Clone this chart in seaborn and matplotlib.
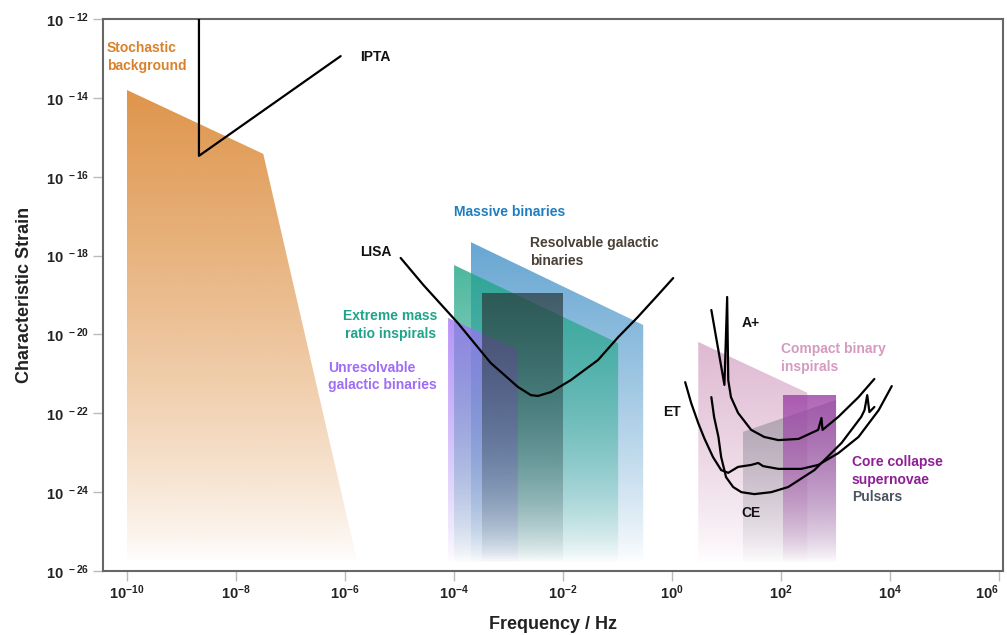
import numpy as np
import matplotlib
matplotlib.use("Agg")
import matplotlib.pyplot as plt
from matplotlib.patches import Polygon
from matplotlib.colors import to_rgb
import seaborn as sns

# all values below are log10(frequency / Hz) and log10(characteristic strain)
floor = -25.8

# source regions (outline vertices)
stoch_f = [-10.0, -7.5, -5.77, -10.0]
stoch_h = [-13.8, -15.42, floor, floor]

massive_f = [-3.69, -0.53, -0.53, -3.69]
massive_h = [-17.66, -19.76, floor, floor]

emri_f = [-4.0, -0.99, -0.99, -4.0]
emri_h = [-18.24, -20.22, floor, floor]

unres_f = [-4.11, -2.83, -2.83, -4.11]
unres_h = [-19.58, -20.39, floor, floor]

resolv_f = [-3.49, -2.0, -2.0, -3.49]
resolv_h = [-18.95, -18.95, floor, floor]

cbc_f = [0.48, 2.48, 2.48, 0.48]
cbc_h = [-20.19, -21.48, floor, floor]

pulsar_f = [1.30, 3.01, 3.01, 1.30]
pulsar_h = [-22.47, -21.66, floor, floor]

ccsn_f = [2.04, 3.01, 3.01, 2.04]
ccsn_h = [-21.54, -21.54, floor, floor]

# detector sensitivity curves
ipta_f = [-8.68, -8.68, -6.08]
ipta_h = [-11.0, -15.47, -12.94]

lisa_f = [-4.98, -4.56, -3.93, -3.33, -2.83, -2.59, -2.46, -2.22, -1.86, -1.36, -0.99, -0.63, -0.26, 0.02]
lisa_h = [-18.06, -18.75, -19.71, -20.72, -21.33, -21.54, -21.56, -21.46, -21.16, -20.65, -20.07, -19.56, -19.00, -18.57]

aplus_f = [0.72, 0.96, 1.01, 1.03, 1.08, 1.21, 1.45, 1.69, 1.95, 2.32, 2.68, 2.74, 2.76, 3.05, 3.42, 3.71]
aplus_h = [-19.38, -21.28, -19.05, -21.16, -21.59, -21.99, -22.42, -22.60, -22.68, -22.65, -22.42, -22.12, -22.42, -22.09, -21.59, -21.13]

et_f = [0.24, 0.35, 0.48, 0.59, 0.75, 0.90, 1.03, 1.21, 1.45, 1.58, 1.67, 1.95, 2.37, 2.68, 3.05, 3.42, 3.79, 4.03]
et_h = [-21.21, -21.74, -22.25, -22.63, -23.11, -23.44, -23.51, -23.36, -23.31, -23.26, -23.34, -23.41, -23.41, -23.31, -23.01, -22.60, -21.92, -21.31]

ce_f = [0.72, 0.77, 0.85, 0.90, 0.99, 1.12, 1.27, 1.51, 1.82, 2.13, 2.61, 3.11, 3.47, 3.53, 3.58, 3.62, 3.71]
ce_h = [-21.59, -22.09, -22.60, -23.11, -23.62, -23.87, -24.00, -24.05, -24.00, -23.87, -23.44, -22.75, -22.09, -21.92, -21.54, -21.97, -21.84]

x_ticks = [-10, -8, -6, -4, -2, 0, 2, 4, 6]
y_ticks = [-26, -24, -22, -20, -18, -16, -14, -12]

sns.set_theme(style="white")
plt.rcParams['font.family'] = ['Liberation Sans', 'DejaVu Sans']
plt.rcParams['font.weight'] = 'bold'
plt.rcParams['mathtext.fontset'] = 'custom'
plt.rcParams['mathtext.rm'] = 'Liberation Sans:bold'
plt.rcParams['mathtext.bf'] = 'Liberation Sans:bold'

fig, ax = plt.subplots(figsize=(10.07, 6.35), dpi=100)
fig.subplots_adjust(left=0.1023, right=0.996, bottom=0.1008, top=0.970)


def gradient_region(fx, hx, color, alpha_top, z):
    poly = Polygon(np.column_stack([fx, hx]), closed=True, facecolor='none', edgecolor='none')
    ax.add_patch(poly)
    n = 256
    t = np.linspace(1, 0, n) ** 0.8
    rgba = np.zeros((n, 1, 4))
    rgba[..., :3] = to_rgb(color)
    rgba[:, 0, 3] = alpha_top * t
    im = ax.imshow(rgba, extent=[min(fx), max(fx), min(hx), max(hx)], origin='upper',
                   aspect='auto', interpolation='bilinear', zorder=z)
    im.set_clip_path(poly)


gradient_region(stoch_f, stoch_h, '#D9822B', 0.85, 1)
gradient_region(massive_f, massive_h, '#3C8DC5', 0.78, 2)
gradient_region(emri_f, emri_h, '#20A585', 0.8, 3)
gradient_region(unres_f, unres_h, '#9D70F5', 0.75, 4)
gradient_region(resolv_f, resolv_h, '#2A3A3C', 0.72, 5)
gradient_region(cbc_f, cbc_h, '#C98AB3', 0.6, 2)
gradient_region(pulsar_f, pulsar_h, '#7F7F8C', 0.55, 3)
gradient_region(ccsn_f, ccsn_h, '#9B40A5', 0.8, 4)

for fx, hx in [(ipta_f, ipta_h), (lisa_f, lisa_h), (aplus_f, aplus_h), (et_f, et_h), (ce_f, ce_h)]:
    sns.lineplot(x=fx, y=hx, sort=False, estimator=None, color='black', lw=1.6, ax=ax, zorder=8)

labels = [
    (-10.37, -12.96, "Stochastic\nbackground", '#D9822B', 'left'),
    (-5.72, -12.96, "IPTA", '#111111', 'left'),
    (-4.0, -16.89, "Massive binaries", '#1F7EC0', 'left'),
    (-2.61, -17.91, "Resolvable galactic\nbinaries", '#4A4036', 'left'),
    (-5.72, -17.91, "LISA", '#111111', 'left'),
    (-5.17, -19.76, "Extreme mass\nratio inspirals", '#20A38A', 'center'),
    (-6.31, -21.07, "Unresolvable\ngalactic binaries", '#9F6CF5', 'left'),
    (1.28, -19.71, "A+", '#111111', 'left'),
    (2.0, -20.60, "Compact binary\ninspirals", '#D59AC0', 'left'),
    (-0.165, -21.97, "ET", '#111111', 'left'),
    (1.28, -24.53, "CE", '#111111', 'left'),
    (3.30, -23.46, "Core collapse\nsupernovae", '#8E1F96', 'left'),
    (3.30, -24.12, "Pulsars", '#4A5560', 'left'),
]
for x, y, s, c, ha in labels:
    ax.text(x, y, s, color=c, ha=ha, va='center', fontsize=10, fontweight='bold',
            linespacing=1.3, multialignment=ha, zorder=10)

ax.set_xlim(-10.44, 6.07)
ax.set_ylim(-26, -12)
ax.set_xticks(x_ticks)
ax.set_xticklabels([r'$\mathbf{10^{%d}}$' % v for v in x_ticks])
ax.get_xticklabels()[-1].set_horizontalalignment('right')
ax.set_yticks(y_ticks)
ax.set_yticklabels([r'$\mathbf{10^{\ %d}}$' % v for v in y_ticks])
ax.tick_params(bottom=True, left=True, direction='out', length=7, width=1,
               color='#BBBBBB', labelsize=10.5, labelcolor='#222222')
ax.tick_params(axis='y', pad=3)
ax.tick_params(axis='x', pad=2)
for sp in ax.spines.values():
    sp.set_visible(True)
    sp.set_color('#666666')
    sp.set_linewidth(1.5)

ax.set_xlabel("Frequency / Hz", fontsize=13, fontweight='bold', color='#222222', labelpad=10)
ax.set_ylabel("Characteristic Strain", fontsize=13, fontweight='bold', color='#222222', labelpad=9)

fig.savefig("out.png", dpi=100)
